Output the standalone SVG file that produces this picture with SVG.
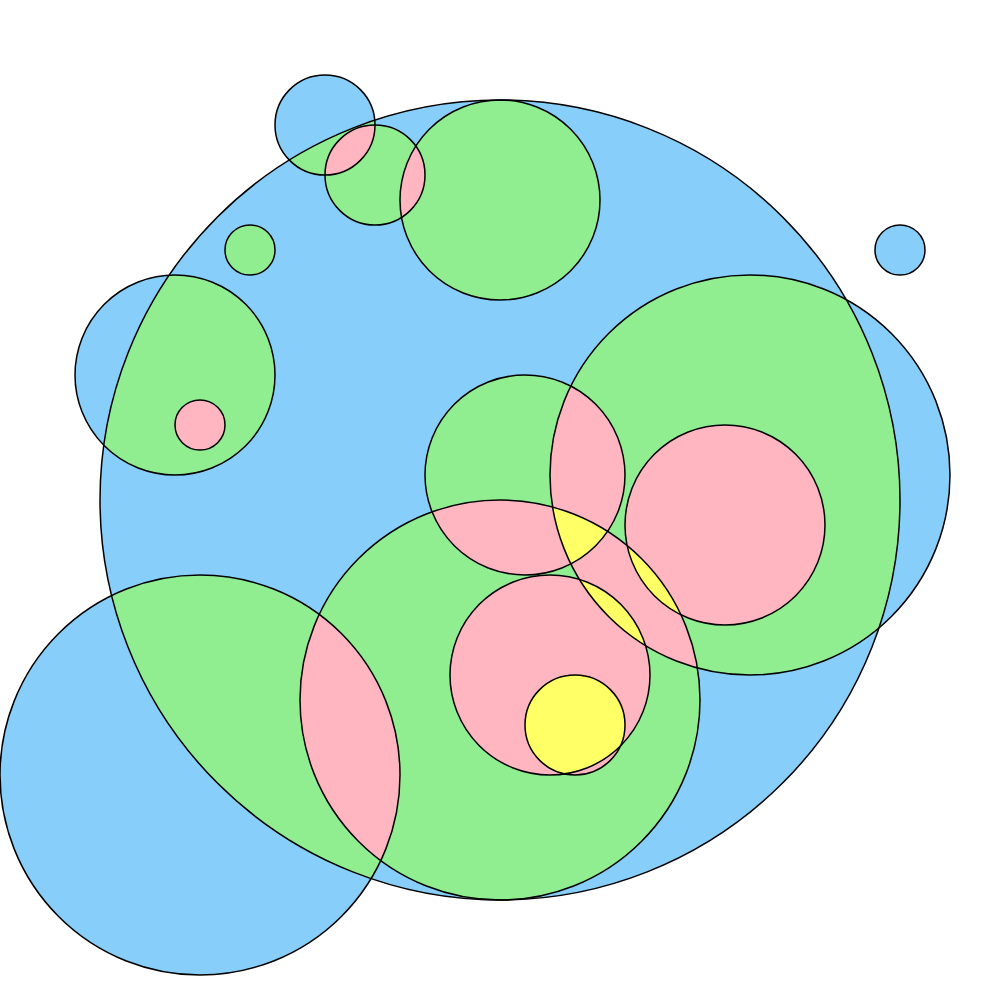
<svg xmlns="http://www.w3.org/2000/svg" width="1000" height="1000" viewBox="0 0 1000 1000">
<style>
.b{fill:#87CEFA}
.g{fill:#90EE90}
.p{fill:#FFB6C1}
.y{fill:#FFFF66}
.o{fill:none;stroke:#000;stroke-width:1.5}
</style>
<defs>
<clipPath id="kA"><circle cx="500" cy="500" r="400"/></clipPath>
<clipPath id="kB"><circle cx="325" cy="125" r="50"/></clipPath>
<clipPath id="kC"><circle cx="375" cy="175" r="50"/></clipPath>
<clipPath id="kJ"><circle cx="750" cy="475" r="200"/></clipPath>
<clipPath id="kL"><circle cx="500" cy="700" r="200"/></clipPath>
<clipPath id="kM"><circle cx="200" cy="775" r="200"/></clipPath>
<clipPath id="kN"><circle cx="550" cy="675" r="100"/></clipPath>
</defs>
<rect width="1000" height="1000" fill="#fff"/>
<g id="level1" class="b">
<circle cx="500" cy="500" r="400"/>
<circle cx="325" cy="125" r="50"/>
<circle cx="900" cy="250" r="25"/>
<circle cx="175" cy="375" r="100"/>
<circle cx="750" cy="475" r="200"/>
<circle cx="200" cy="775" r="200"/>
</g>
<g id="level2" class="g" clip-path="url(#kA)">
<circle cx="325" cy="125" r="50"/>
<circle cx="375" cy="175" r="50"/>
<circle cx="500" cy="200" r="100"/>
<circle cx="250" cy="250" r="25"/>
<circle cx="175" cy="375" r="100"/>
<circle cx="525" cy="475" r="100"/>
<circle cx="750" cy="475" r="200"/>
<circle cx="500" cy="700" r="200"/>
<circle cx="200" cy="775" r="200"/>
</g>
<g id="level3" class="p">
<circle cx="375" cy="175" r="50" clip-path="url(#kB)"/>
<circle cx="500" cy="200" r="100" clip-path="url(#kC)"/>
<circle cx="200" cy="425" r="25"/>
<circle cx="525" cy="475" r="100" clip-path="url(#kJ)"/>
<circle cx="525" cy="475" r="100" clip-path="url(#kL)"/>
<circle cx="725" cy="525" r="100"/>
<circle cx="500" cy="700" r="200" clip-path="url(#kJ)"/>
<circle cx="500" cy="700" r="200" clip-path="url(#kM)"/>
<circle cx="550" cy="675" r="100"/>
<circle cx="575" cy="725" r="50"/>
</g>
<g id="level4" class="y">
<circle cx="725" cy="525" r="100" clip-path="url(#kL)"/>
<circle cx="550" cy="675" r="100" clip-path="url(#kJ)"/>
<circle cx="575" cy="725" r="50" clip-path="url(#kN)"/>
<g clip-path="url(#kJ)"><circle cx="525" cy="475" r="100" clip-path="url(#kL)"/></g>
</g>
<g id="outlines" class="o">
<g id="circle-a"><circle cx="500" cy="500" r="400"/></g>
<g id="circle-b"><circle cx="325" cy="125" r="50"/></g>
<g id="circle-c"><circle cx="375" cy="175" r="50"/></g>
<g id="circle-d"><circle cx="500" cy="200" r="100"/></g>
<g id="circle-e"><circle cx="250" cy="250" r="25"/></g>
<g id="circle-f"><circle cx="900" cy="250" r="25"/></g>
<g id="circle-g"><circle cx="175" cy="375" r="100"/></g>
<g id="circle-h"><circle cx="200" cy="425" r="25"/></g>
<g id="circle-i"><circle cx="525" cy="475" r="100"/></g>
<g id="circle-j"><circle cx="750" cy="475" r="200"/></g>
<g id="circle-k"><circle cx="725" cy="525" r="100"/></g>
<g id="circle-l"><circle cx="500" cy="700" r="200"/></g>
<g id="circle-m"><circle cx="200" cy="775" r="200"/></g>
<g id="circle-n"><circle cx="550" cy="675" r="100"/></g>
<g id="circle-o"><circle cx="575" cy="725" r="50"/></g>
</g>
</svg>
